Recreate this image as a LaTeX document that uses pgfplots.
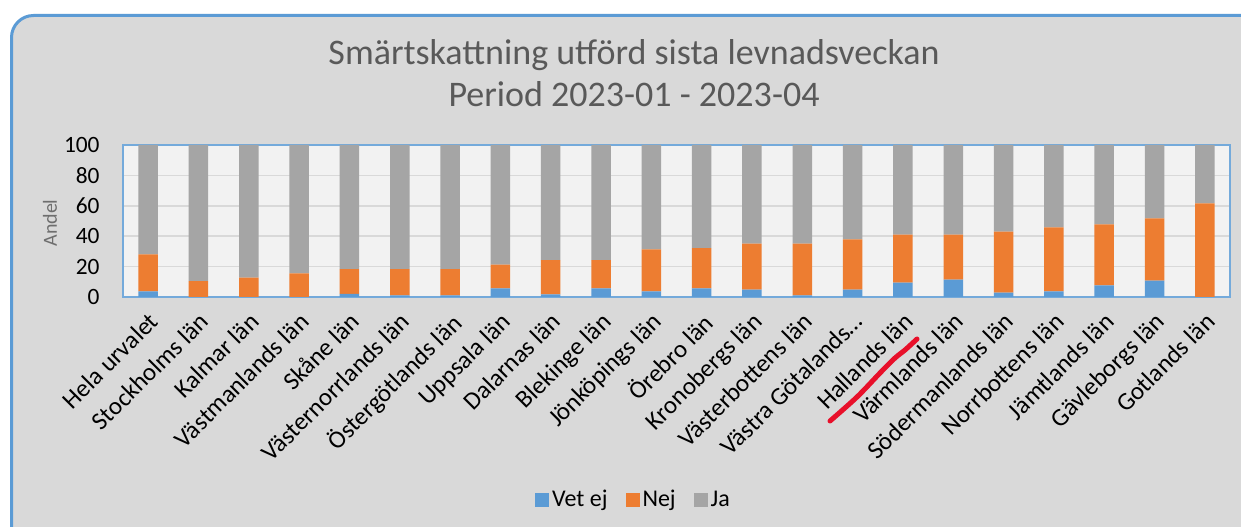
\documentclass[border=0pt]{standalone}
\usepackage{fontspec}
\setmainfont{Carlito}
\usepackage{pgfplots}
\usepackage{pgfplotstable}
\pgfplotsset{compat=1.18}
\definecolor{cblue}{HTML}{5B9BD5}
\definecolor{corange}{HTML}{ED7D31}
\definecolor{cgray}{HTML}{A5A5A5}
\definecolor{bg}{HTML}{D9D9D9}
\definecolor{plotbg}{HTML}{F2F2F2}
\definecolor{titlec}{HTML}{595959}
\definecolor{labc}{HTML}{6E6E6E}
\definecolor{frameblue}{HTML}{5B9BD5}
\definecolor{gridc}{HTML}{D9D9D9}
\definecolor{penred}{HTML}{E8102A}

\pgfplotstableread{
idx vet nej ja
0 3.7 24.4 71.9
1 0 10.5 89.5
2 0 12.7 87.3
3 0 15.6 84.4
4 2.0 16.4 81.6
5 1.1 17.3 81.6
6 1.1 17.3 81.6
7 5.7 15.6 78.7
8 1.8 22.5 75.7
9 5.7 18.6 75.7
10 3.7 27.7 68.6
11 5.7 26.5 67.8
12 4.8 30.3 64.9
13 1.1 34.0 64.9
14 4.8 33.1 62.1
15 9.4 31.6 59.0
16 11.4 29.6 59.0
17 2.9 40.1 57.0
18 3.7 42.1 54.2
19 7.7 40.1 52.2
20 10.7 41.1 48.2
21 0 61.6 38.4
}\datatable

\begin{document}
\begin{tikzpicture}
\useasboundingbox (0,0) rectangle (620.5bp,263.5bp);
\clip (0,0) rectangle (620.5bp,263.5bp);
\fill[white] (0,0) rectangle (620.5bp,263.5bp);
\draw[frameblue, line width=1.5bp, fill=bg, rounded corners=11bp] (5.75bp,-10bp) rectangle (632bp,255.75bp);
\node[font=\fontsize{18bp}{21bp}\selectfont, text=titlec, anchor=base, inner sep=0pt] at (317bp,231bp) {Smärtskattning utförd sista levnadsveckan};
\node[font=\fontsize{18bp}{21bp}\selectfont, text=titlec, anchor=base, inner sep=0pt] at (317bp,210bp) {Period 2023-01 - 2023-04};
\begin{axis}[
  at={(61.5bp,115bp)}, anchor=south west,
  width=553.5bp, height=76bp, scale only axis,
  xmin=-0.5, xmax=21.5, ymin=0, ymax=100,
  ybar stacked, bar width=9.75bp,
  axis background/.style={fill=plotbg},
  axis line style={draw=frameblue!85, line width=1bp},
  ytick={0,20,...,100},
  ymajorgrids, grid style={gridc, line width=0.75bp},
  major tick length=0pt,
  xtick={0,...,21},
  xticklabels={Hela urvalet, Stockholms län, Kalmar län, Västmanlands län, Skåne län, Västernorrlands län, Östergötlands län, Uppsala län, Dalarnas län, Blekinge län, Jönköpings län, Örebro län, Kronobergs län, Västerbottens län, Västra Götalands…, Hallands län, Värmlands län, Södermanlands län, Norrbottens län, Jämtlands län, Gävleborgs län, Gotlands län},
  x tick label style={rotate=45, anchor=north east, font=\fontsize{12.5bp}{15bp}\selectfont, inner sep=0pt, yshift=-4.5bp, xshift=-5bp},
  y tick label style={font=\fontsize{11.7bp}{14bp}\selectfont, anchor=east, inner sep=0pt, xshift=-11.5bp},
  /pgf/number format/assume math mode=true,
  ylabel={Andel},
  ylabel style={font=\fontsize{10bp}{12bp}\selectfont, text=labc, at={(axis description cs:-0.0659,0.487)}, anchor=center, rotate=0},
  legend style={at={(axis description cs:0.4616,-1.3355)}, anchor=center, draw=none, fill=none,
    font=\fontsize{12bp}{14bp}\selectfont, legend columns=-1,
    /tikz/every even column/.append style={column sep=7.5bp},
    nodes={inner sep=1.5bp}},
  legend image code/.code={\fill[#1] (0bp,-3.5bp) rectangle (7bp,3.5bp);},
]
\addplot[fill=cblue, draw=none] table[x=idx, y=vet] \datatable;
\addplot[fill=corange, draw=none] table[x=idx, y=nej] \datatable;
\addplot[fill=cgray, draw=none] table[x=idx, y=ja] \datatable;
\legend{Vet ej, Nej, Ja}
\end{axis}
\draw[penred, line width=2.5bp, line cap=round, line join=round] plot[smooth] coordinates {(415bp,53bp) (428.5bp,65bp) (440bp,77bp) (447.5bp,84.5bp) (452.5bp,88.5bp) (458.5bp,94bp)};
\end{tikzpicture}
\end{document}
